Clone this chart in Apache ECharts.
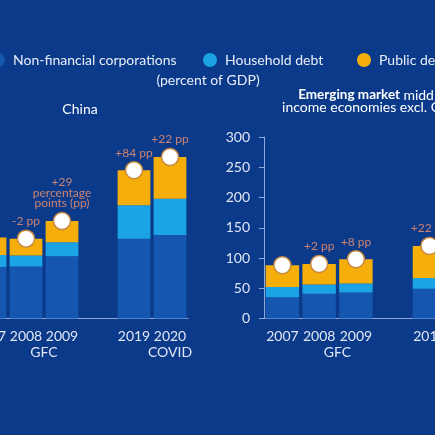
<!DOCTYPE html>
<html><head><meta charset="utf-8">
<script src="https://cdn.jsdelivr.net/npm/echarts@6/dist/echarts.min.js"></script>
<style>html,body{margin:0;padding:0;background:#0b3a8b}#c{width:435px;height:435px}</style>
</head><body><div id="c"></div>
<script>
// ---- data ----
const categories = ['2007', '2008', '2009', '', '2019', '2020'];
const chinaNFC = [85, 86, 103, null, 132, 138];
const chinaHH  = [20, 18, 23, null, 55, 60];
const chinaPub = [29, 28, 35, null, 58, 69];
const chinaNotes = ['', '-2 pp', '+29\npercentage\npoints (pp)', '', '+84 pp', '+22 pp'];
const emNFC = [35, 41, 43, null, 49, 52];
const emHH  = [17, 15, 15, null, 18, 19];
const emPub = [36, 34, 40, null, 53, 60];
const emNotes = ['', '+2 pp', '+8 pp', '', '+22 pp', ''];
const seriesNames = ['Non-financial corporations', 'Household debt', 'Public debt'];
const yMin = 0, yMax = 300, yStep = 50;

// ---- styles ----
const FONT = 'Lato';
const COLORS = ['#1456b0', '#1ba3e6', '#f5ae0a'];
const AXIS_COL = '#8eaadb';
const TXT = '#dfe6f3';
const NOTE_COL = '#cf8470';

function totals(a, b, c) {
  return a.map((v, i) => v == null ? null : v + b[i] + c[i]);
}

function xAxisFor(gi, gfcPad) {
  return {
    type: 'category', gridIndex: gi, data: categories,
    axisLine: { show: true, lineStyle: { color: AXIS_COL, width: 1 } },
    axisTick: { show: false },
    axisLabel: {
      interval: 0, margin: 10, color: TXT, fontSize: 14, fontFamily: FONT, lineHeight: 16,
      formatter: v => v === '2008' ? '2008\n{g|GFC}' : (v === '2020' ? '2020\n{c|COVID}' : v),
      rich: {
        g: { padding: [0, 0, 0, gfcPad], fontSize: 14, fontFamily: FONT, color: TXT, lineHeight: 16 },
        c: { fontSize: 14, fontFamily: FONT, color: TXT, lineHeight: 16 }
      }
    }
  };
}

function seriesFor(gi, nfc, hh, pub, notes) {
  const stack = 's' + gi;
  const bars = [nfc, hh, pub].map((d, k) => ({
    type: 'bar', name: seriesNames[k], xAxisIndex: gi, yAxisIndex: gi, stack: stack,
    data: d, barCategoryGap: '9%', itemStyle: { color: COLORS[k] }, emphasis: { disabled: true }
  }));
  bars.push({
    type: 'scatter', name: 'total' + gi, xAxisIndex: gi, yAxisIndex: gi,
    data: totals(nfc, hh, pub), symbol: 'circle', symbolSize: 17, z: 5,
    itemStyle: { color: '#ffffff', opacity: 1, borderColor: '#c98a3e', borderWidth: 1.5 },
    label: {
      show: true, position: 'top', distance: 3, color: NOTE_COL, fontSize: 12,
      fontFamily: FONT, lineHeight: 10.5, align: 'center',
      formatter: p => notes[p.dataIndex]
    },
    emphasis: { disabled: true }
  });
  return bars;
}

function legendItem(name, left) {
  return {
    data: [name], left: left, top: 53, padding: 0, itemWidth: 14, itemHeight: 14,
    icon: 'circle', selectedMode: false,
    textStyle: { color: '#e8eef8', fontSize: 14, fontFamily: FONT, padding: [0, 0, 0, 3] }
  };
}

const chart = echarts.init(document.getElementById('c'), null, { renderer: 'canvas' });
chart.setOption({
  backgroundColor: '#0b3a8b',
  animation: false,
  legend: [legendItem(seriesNames[0], -9), legendItem(seriesNames[1], 203), legendItem(seriesNames[2], 357)],
  graphic: [
    { type: 'text', x: 208, y: 80, style: { text: '(percent of GDP)', textAlign: 'center', textVerticalAlign: 'middle', fontSize: 14, fontFamily: FONT, fill: '#e8eef8' } },
    { type: 'text', x: 80, y: 109, style: { text: 'China', textAlign: 'center', textVerticalAlign: 'middle', fontSize: 14, fontFamily: FONT, fill: '#ffffff' } },
    { type: 'text', x: 374, y: 101, style: {
        text: '{b|Emerging market} {n|middle-}\n{n|income economies excl. China}',
        textAlign: 'center', textVerticalAlign: 'middle', fill: '#ffffff',
        rich: {
          b: { fontSize: 13.5, fontFamily: FONT, fontWeight: 'bold', fill: '#ffffff', lineHeight: 12 },
          n: { fontSize: 14, fontFamily: FONT, fontWeight: 'normal', fill: '#ffffff', lineHeight: 12 }
        } } }
  ],
  grid: [
    { left: -28, right: 247, top: 137, bottom: 116.5, outerBoundsMode: 'none', containLabel: false },
    { left: 264, right: -49.6, top: 137, bottom: 116.5, outerBoundsMode: 'none', containLabel: false }
  ],
  xAxis: [xAxisFor(0, 36), xAxisFor(1, 36.6)],
  yAxis: [
    { type: 'value', gridIndex: 0, min: yMin, max: yMax, interval: yStep, show: false, splitLine: { show: false } },
    { type: 'value', gridIndex: 1, min: yMin, max: yMax, interval: yStep,
      axisLine: { show: true, lineStyle: { color: AXIS_COL, width: 1 } },
      axisTick: { show: true, length: 5, lineStyle: { color: AXIS_COL } },
      splitLine: { show: false },
      axisLabel: { margin: 14, color: TXT, fontSize: 14, fontFamily: FONT } }
  ],
  series: [].concat(seriesFor(0, chinaNFC, chinaHH, chinaPub, chinaNotes),
                   seriesFor(1, emNFC, emHH, emPub, emNotes))
});
</script>
</body></html>
